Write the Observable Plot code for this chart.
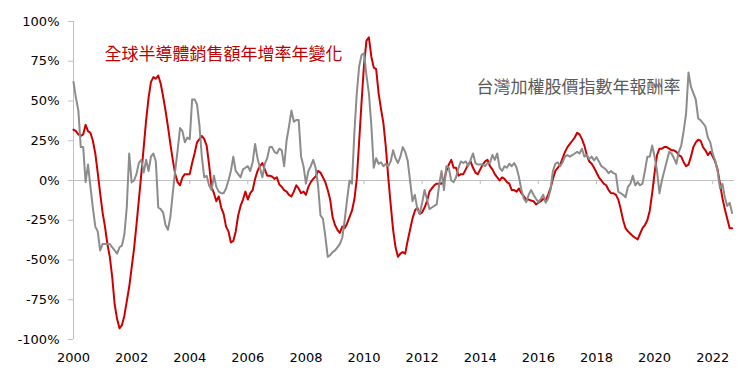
<!DOCTYPE html>
<html><head><meta charset="utf-8">
<script src="https://cdn.jsdelivr.net/npm/d3@7"></script>
<script src="https://cdn.jsdelivr.net/npm/@observablehq/plot@0.6"></script>
<style>
body{margin:0;background:#fff;}
#chart svg{display:block;}
</style></head><body><div id="chart"></div>
<script>
const startYear = 2000;
const xTicks = [2000,2002,2004,2006,2008,2010,2012,2014,2016,2018,2020,2022];
const yTicks = [-100,-75,-50,-25,0,25,50,75,100];
const semiLabel = "全球半導體銷售額年增率年變化";
const taiexLabel = "台灣加權股價指數年報酬率";

// monthly values, Jan 2000 - Sep 2022 (%)
const semiYoY = [
32,31,29,28,29,35,31,30,25,17,
5,-8,-20,-29,-40,-48,-61,-78,-87,-93,
-91,-85,-76,-67,-55,-43,-28,-12,4,21,
38,52,62,65,64,66,61,53,44,34,
23,13,4,-1,-3,2,4,4,4,11,
17,24,26,28,26,22,10,-4,-8,-13,
-10,-17,-21,-29,-32,-39,-38,-32,-22,-16,
-12,-7,-12,-8,-6,1,6,9,11,7,
3,3,2.5,1,2,-2.5,-4,-6,-7,-9,
-10,-7,-3,-5,-8,-7,-9,-4,-1,1,
2.5,6,5,2,-1,-6,-12,-23,-28,-31,
-33,-29,-30,-27,-23,-19,-12,1,25,50,
73,88,90,78,71,70,55,45,36,21,
2,-15,-31,-42,-48,-46,-45,-46,-38,-31,
-24,-19,-17,-21,-20,-17,-13,-7,-5,-3,
-2,-2,-2,0,6,10,13,8,8,3,
4,4,7,10,12,8,5,4,7,10,
12,13,9,7,4,2,0,2,1,-1,
-2,-6,-6,-7,-5,-8,-10,-12,-12,-12.6,
-13,-15,-14,-13,-11.5,-12.5,-9,-5,1,6,
8,10,14,18,21,23,25,27,30,29,
26,22,16,12,10.5,8,5,2,0,-2,
-3,-6,-8,-8,-9,-12,-18,-25,-30,-32,
-33.5,-35,-36,-37,-33.5,-30,-28,-25,-19,-8,
5,16,20,20,21,21,20,19,19,18,
16,15,11.5,9,10,15,21,24,25.6,25,
21,19,16,18,15,12,7,-2,-11,-18,
-24,-30,-30
];
const taiexReturn = [
62,52,44,21,21,-1,10,-4,-17,-29,
-32,-44,-40,-40,-40,-40,-42,-44,-46,-42,
-41,-34,-17,17,-1,0,4,11,13,5,
13,6,15,17,12,-17,-18,-20,-28,-31,
-23,-8,6,19,33,31,24,27,26,51,
51,48,35,15,2,3,-3,-6,3,-4,
-7,-8,-8,-5,0,6,15,6,4,2,
7,8,9,6,11.5,23,14,8,2,10.5,
14,21,21,18,17,20,19,9,25,34,
44,37,38,38,15,9,-2,6,9,13,
8,-3,-22,-24,-35,-48,-47,-45,-44,-42,
-40,-36,-25,-12,0,-2,30,55,72,79,
80,66,55,35,8,14,10.5,11.5,9,10.5,
9,12,19,14,11,15,21,18,12.6,0,
-13,-9,-18,-21,-14,-6,-12,-18,-17,-16,
-15,-3,6,-6,9,8,0,-1,2,8,
12,11,12,9,13,17,11,10,10,10,
9,11,11,16,13,17,8,6,9,8,
10.5,9,11,8,2,-6,-11.5,-13.6,-9,-6,
-9,-11.5,-13.6,-11.5,-9,-14,-11.5,-6,6,10.5,
11.5,9,11.5,15,16,15,16,17,18,17,
20,15,16,13.6,15,12.6,14.7,12,9,8,
6.7,4.6,6,4.6,4,-7,-8,-9,-10.5,-4,
-2,3,-3,-1,-3,-2,6,15,15,22,
15,6,-8,0,6,12,18,17,14,10.5,
18,22,31,42,68,59,55,51,39,38,
36,34,27,24,17,12.6,6,-5,-2,-10.5,
-16,-14,-20.5
];

const semi = semiYoY.map((v, i) => ({t: startYear + i / 12, v}));
const taiex = taiexReturn.map((v, i) => ({t: startYear + i / 12, v}));
const fmtX = d => String(d);
const fmtY = d => String(d) + "%";

const chart = Plot.plot({
  width: 748, height: 374,
  marginLeft: 73, marginRight: 14, marginTop: 21, marginBottom: 35,
  style: {fontFamily: "'DejaVu Sans', Verdana, sans-serif", fontSize: "13px", color: "#000", background: "#fff"},
  x: {domain: [2000, 2022.75]},
  y: {domain: [-100, 100]},
  marks: [
    Plot.ruleY([0], {stroke: "#bfbfbf", strokeWidth: 1}),
    Plot.ruleX([2000], {stroke: "#bfbfbf", strokeWidth: 1}),
    Plot.ruleX(xTicks.slice(1), {x: d => d, y1: 0, y2: -2.6, stroke: "#bfbfbf"}),
    Plot.axisY(yTicks, {tickSize: 5, tickPadding: 9, tickFormat: fmtY, stroke: "#bfbfbf", fill: "#000", label: null, fontSize: 13}),
    Plot.axisX(xTicks, {tickSize: 0, tickPadding: 13, tickFormat: fmtX, label: null, fill: "#000", fontSize: 13}),
    Plot.line(semi, {x: "t", y: "v", stroke: "#cc0000", strokeWidth: 2}),
    Plot.line(taiex, {x: "t", y: "v", stroke: "#8c8c8c", strokeWidth: 2}),
    Plot.text([semiLabel], {x: 2001.07, y: 79, text: d => d, textAnchor: "start", fill: "#c00000", fontSize: 17, fontFamily: "'Noto Sans CJK TC', sans-serif"}),
    Plot.text([taiexLabel], {x: 2013.87, y: 58.5, text: d => d, textAnchor: "start", fill: "#595959", fontSize: 17, fontFamily: "'Noto Sans CJK TC', sans-serif"})
  ]
});
document.getElementById("chart").appendChild(chart);
</script>
</body></html>
